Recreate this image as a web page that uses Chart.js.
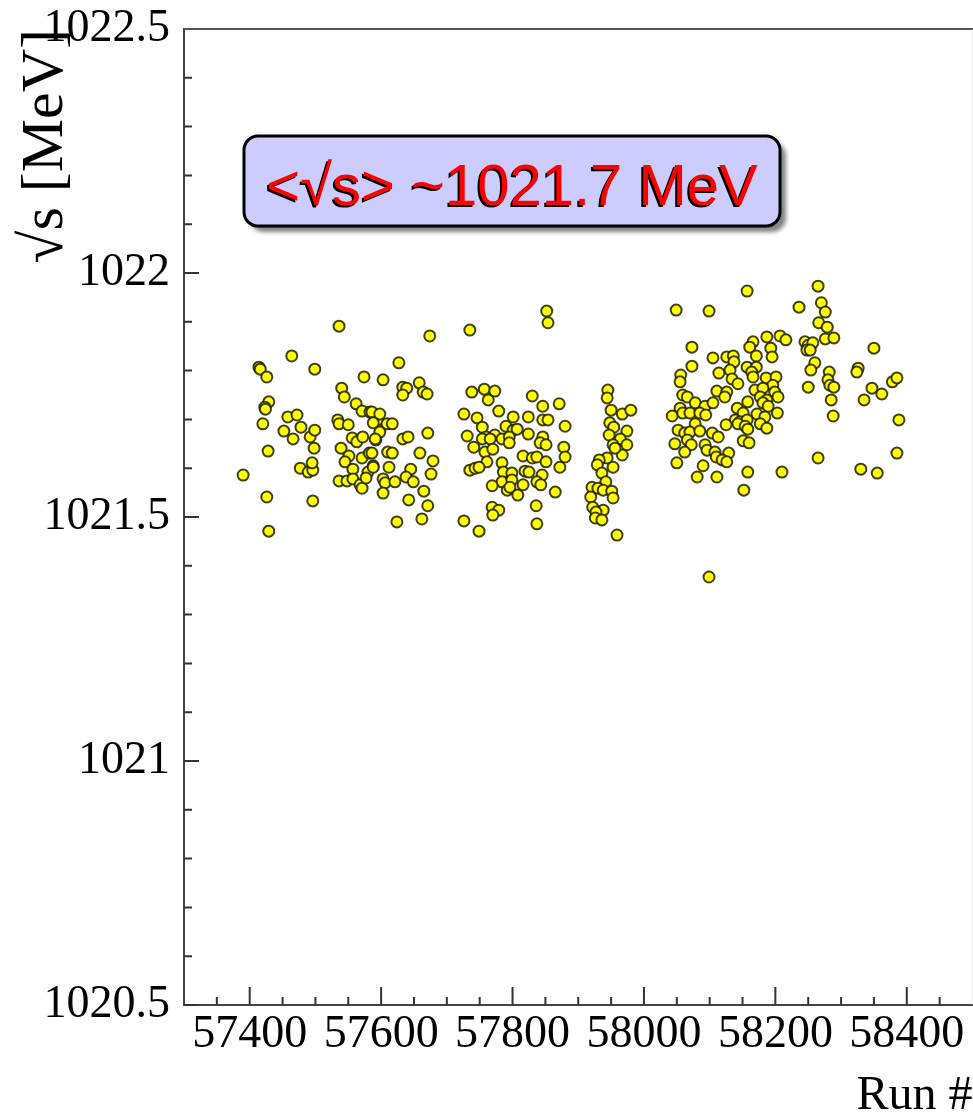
<!DOCTYPE html>
<html>
<head>
<meta charset="utf-8">
<script src="https://cdn.jsdelivr.net/npm/chart.js@4.4.1/dist/chart.umd.min.js"></script>
<style>
  html, body { margin: 0; padding: 0; background: #fff; overflow: hidden; width: 973px; height: 1119px; }
  canvas { display: block; }
</style>
</head>
<body>
<canvas id="chart" width="980" height="1119"></canvas>
<script>
// run numbers and measured sqrt(s) [MeV], grouped by run period
const runNumbers = [
  57390, 57414, 57416, 57426, 57429, 57423, 57424, 57420, 57428, 57426, 57429, 57464, 57499,
  57458, 57472, 57452, 57478, 57466, 57492, 57499, 57498, 57477, 57489, 57496, 57495, 57496,
  57536, 57574, 57540, 57544, 57534, 57536, 57550, 57562, 57571, 57583, 57591, 57595, 57556,
  57563, 57572, 57539, 57551, 57545, 57571, 57582, 57557, 57580, 57588, 57536, 57548, 57557,
  57568, 57571, 57577, 57592, 57674, 57627, 57603, 57633, 57639, 57633, 57658, 57664, 57670,
  57586, 57598, 57588, 57609, 57617, 57598, 57591, 57671, 57633, 57641, 57659, 57610, 57617,
  57586, 57588, 57612, 57679, 57645, 57638, 57649, 57676, 57603, 57606, 57603, 57621, 57665,
  57642, 57671, 57624, 57662,
  57852, 57854, 57735, 57726, 57749, 57738, 57757, 57763, 57773, 57779, 57830, 57846, 57871,
  57726, 57746, 57801, 57824, 57846, 57854, 57880, 57754, 57790, 57801, 57807, 57731, 57760,
  57773, 57754, 57766, 57784, 57795, 57824, 57846, 57741, 57758, 57770, 57795, 57842, 57851,
  57878, 57761, 57784, 57816, 57830, 57837, 57851, 57880, 57872, 57735, 57743, 57749, 57786,
  57799, 57819, 57825, 57845, 57784, 57799, 57837, 57843, 57769, 57792, 57796, 57808, 57816,
  57865, 57769, 57779, 57770, 57836, 57837,
  57945, 57944, 57950, 57967, 57980, 57948, 57954, 57947, 57974, 57964, 57953, 57974, 57967,
  57956, 57944, 57932, 57929, 57953, 57936, 57942, 57921, 57930, 57938, 57951, 57953, 57919,
  57922, 57938, 57927, 57926, 57936, 57959,
  58049, 58099, 58073, 58073, 58105, 58056, 58055, 58111, 58059, 58066, 58078, 58093, 58105,
  58055, 58043, 58059, 58070, 58085, 58094, 58078, 58052, 58062, 58070, 58085, 58104, 58113,
  58066, 58047, 58072, 58093, 58096, 58108, 58062, 58050, 58090, 58081, 58111, 58099,
  58157, 58236, 58187, 58207, 58216, 58166, 58161, 58193, 58195, 58126, 58136, 58137, 58171,
  58157, 58171, 58131, 58114, 58164, 58166, 58134, 58143, 58186, 58201, 58196, 58126, 58123,
  58169, 58181, 58199, 58204, 58177, 58187, 58158, 58181, 58189, 58142, 58151, 58172, 58203,
  58184, 58139, 58146, 58157, 58143, 58154, 58177, 58125, 58187, 58158, 58110, 58129, 58119,
  58126, 58151, 58160, 58158, 58210, 58152,
  58265, 58270, 58276, 58266, 58279, 58276, 58289, 58245, 58250, 58257, 58248, 58253, 58350,
  58260, 58254, 58282, 58280, 58283, 58289, 58250, 58326, 58324, 58378, 58385, 58347, 58362,
  58335, 58285, 58288, 58388, 58265, 58385, 58330, 58355
];
const sqrtS = [
  1021.586, 1021.807, 1021.803, 1021.787, 1021.736, 1021.725, 1021.721, 1021.691, 1021.635, 1021.541, 1021.471, 1021.830, 1021.803,
  1021.705, 1021.709, 1021.676, 1021.684, 1021.660, 1021.664, 1021.678, 1021.641, 1021.600, 1021.592, 1021.596, 1021.611, 1021.533,
  1021.891, 1021.787, 1021.764, 1021.746, 1021.699, 1021.691, 1021.689, 1021.732, 1021.717, 1021.715, 1021.705, 1021.699, 1021.662,
  1021.654, 1021.664, 1021.641, 1021.625, 1021.613, 1021.621, 1021.631, 1021.598, 1021.592, 1021.605, 1021.574, 1021.574, 1021.578,
  1021.566, 1021.559, 1021.580, 1021.658, 1021.871, 1021.816, 1021.781, 1021.766, 1021.764, 1021.750, 1021.775, 1021.756, 1021.752,
  1021.715, 1021.711, 1021.693, 1021.691, 1021.691, 1021.674, 1021.660, 1021.672, 1021.660, 1021.664, 1021.631, 1021.633, 1021.631,
  1021.631, 1021.602, 1021.602, 1021.615, 1021.598, 1021.582, 1021.572, 1021.588, 1021.578, 1021.570, 1021.549, 1021.572, 1021.553,
  1021.535, 1021.523, 1021.490, 1021.496,
  1021.922, 1021.898, 1021.883, 1021.492, 1021.471, 1021.756, 1021.762, 1021.740, 1021.758, 1021.717, 1021.748, 1021.727, 1021.732,
  1021.711, 1021.703, 1021.705, 1021.705, 1021.699, 1021.699, 1021.686, 1021.684, 1021.686, 1021.678, 1021.680, 1021.666, 1021.664,
  1021.668, 1021.660, 1021.660, 1021.660, 1021.664, 1021.670, 1021.664, 1021.643, 1021.633, 1021.639, 1021.652, 1021.652, 1021.648,
  1021.643, 1021.613, 1021.611, 1021.625, 1021.621, 1021.623, 1021.613, 1021.623, 1021.602, 1021.596, 1021.600, 1021.602, 1021.592,
  1021.590, 1021.594, 1021.592, 1021.586, 1021.572, 1021.576, 1021.572, 1021.566, 1021.564, 1021.555, 1021.561, 1021.545, 1021.566,
  1021.551, 1021.520, 1021.514, 1021.504, 1021.523, 1021.486,
  1021.760, 1021.744, 1021.719, 1021.711, 1021.719, 1021.693, 1021.684, 1021.668, 1021.676, 1021.660, 1021.648, 1021.648, 1021.627,
  1021.641, 1021.621, 1021.617, 1021.607, 1021.602, 1021.590, 1021.572, 1021.561, 1021.559, 1021.555, 1021.553, 1021.539, 1021.541,
  1021.520, 1021.514, 1021.510, 1021.498, 1021.494, 1021.463,
  1021.924, 1021.922, 1021.848, 1021.809, 1021.826, 1021.791, 1021.777, 1021.758, 1021.750, 1021.746, 1021.734, 1021.727, 1021.734,
  1021.723, 1021.707, 1021.713, 1021.713, 1021.713, 1021.709, 1021.691, 1021.678, 1021.672, 1021.674, 1021.676, 1021.672, 1021.664,
  1021.658, 1021.650, 1021.648, 1021.648, 1021.637, 1021.633, 1021.633, 1021.611, 1021.605, 1021.582, 1021.582, 1021.377,
  1021.963, 1021.930, 1021.869, 1021.871, 1021.863, 1021.859, 1021.848, 1021.846, 1021.828, 1021.828, 1021.830, 1021.818, 1021.830,
  1021.807, 1021.807, 1021.801, 1021.795, 1021.797, 1021.787, 1021.783, 1021.773, 1021.785, 1021.787, 1021.770, 1021.756, 1021.746,
  1021.760, 1021.764, 1021.756, 1021.746, 1021.746, 1021.740, 1021.736, 1021.734, 1021.727, 1021.723, 1021.713, 1021.711, 1021.713,
  1021.705, 1021.699, 1021.695, 1021.699, 1021.691, 1021.686, 1021.691, 1021.689, 1021.682, 1021.680, 1021.623, 1021.631, 1021.617,
  1021.613, 1021.656, 1021.652, 1021.592, 1021.592, 1021.555,
  1021.973, 1021.939, 1021.920, 1021.898, 1021.889, 1021.865, 1021.867, 1021.859, 1021.852, 1021.857, 1021.842, 1021.842, 1021.846,
  1021.816, 1021.801, 1021.797, 1021.781, 1021.770, 1021.766, 1021.766, 1021.805, 1021.797, 1021.777, 1021.785, 1021.764, 1021.752,
  1021.740, 1021.740, 1021.707, 1021.699, 1021.621, 1021.631, 1021.598, 1021.590
];

const xTickLabels = [57400, 57600, 57800, 58000, 58200, 58400];
const yTickLabels = [1020.5, 1021, 1021.5, 1022, 1022.5];
const meanLabel = '<\u221As> ~1021.7 MeV';

const points = runNumbers.map((r, i) => ({ x: r, y: sqrtS[i] }));

// ROOT style inward ticks, frame and the mean value box
const rootFrame = {
  id: 'rootFrame',
  afterDraw(chart) {
    const { ctx, chartArea: a, scales: { x, y } } = chart;
    ctx.save();
    ctx.strokeStyle = '#333';
    ctx.lineWidth = 2;
    ctx.beginPath();
    for (let v = 57350; v < 58500; v += 50) {
      const px = x.getPixelForValue(v);
      const len = v % 200 === 0 ? 18 : 8;
      ctx.moveTo(px, a.bottom);
      ctx.lineTo(px, a.bottom - len);
    }
    for (let k = 0; k <= 20; k++) {
      const v = 1020.5 + k * 0.1;
      const py = y.getPixelForValue(v);
      const len = k % 5 === 0 ? 15 : 8;
      ctx.moveTo(a.left, py);
      ctx.lineTo(a.left + len, py);
    }
    ctx.stroke();

    ctx.strokeStyle = '#555';
    ctx.beginPath();
    ctx.moveTo(a.left, a.top);
    ctx.lineTo(a.right + 1, a.top);
    ctx.stroke();
    ctx.strokeStyle = '#ddd';
    ctx.lineWidth = 1;
    ctx.beginPath();
    ctx.moveTo(a.right + 0.5, a.top);
    ctx.lineTo(a.right + 0.5, a.bottom);
    ctx.stroke();

    // mean value box
    const bx = 244, by = 136, bw = 536, bh = 90;
    ctx.fillStyle = 'rgba(90,90,90,0.75)';
    ctx.filter = 'blur(2px)';
    ctx.beginPath();
    ctx.roundRect(bx + 6, by + 6, bw, bh, 14);
    ctx.fill();
    ctx.filter = 'none';
    ctx.fillStyle = '#ccccff';
    ctx.strokeStyle = '#000';
    ctx.lineWidth = 3;
    ctx.beginPath();
    ctx.roundRect(bx, by, bw, bh, 14);
    ctx.fill();
    ctx.stroke();

    ctx.font = '58px "Liberation Sans", Arial, sans-serif';
    ctx.textAlign = 'center';
    ctx.textBaseline = 'alphabetic';
    ctx.fillStyle = '#000';
    ctx.fillText(meanLabel, bx + bw / 2 - 2, 207);
    ctx.fillStyle = '#ff0000';
    ctx.fillText(meanLabel, bx + bw / 2, 205);
    ctx.restore();
  }
};

const serif = '"Liberation Serif", "Times New Roman", serif';
const noPad = (s) => { s.paddingTop = 0; s.paddingBottom = 0; s.paddingLeft = 0; s.paddingRight = 0; };

new Chart(document.getElementById('chart'), {
  type: 'scatter',
  data: {
    datasets: [{
      data: points,
      pointRadius: 5.5,
      pointHoverRadius: 5.5,
      pointBackgroundColor: '#ffff00',
      pointBorderColor: 'rgba(30,30,0,0.85)',
      pointBorderWidth: 2
    }]
  },
  options: {
    responsive: false,
    animation: false,
    devicePixelRatio: 1,
    layout: { padding: { top: 29, right: 1, left: 0, bottom: 0 } },
    plugins: { legend: { display: false }, tooltip: { enabled: false } },
    scales: {
      x: {
        type: 'linear',
        min: 57300,
        max: 58500,
        afterBuildTicks: (s) => { s.ticks = xTickLabels.map((v) => ({ value: v })); },
        afterFit: (s) => { s.height = 114; noPad(s); },
        grid: { drawOnChartArea: false, drawTicks: false },
        border: { display: true, color: '#444', width: 2 },
        ticks: {
          padding: 2,
          maxRotation: 0,
          autoSkip: false,
          color: '#000',
          font: { family: serif, size: 46 },
          callback: (v) => String(v)
        },
        title: {
          display: true,
          text: 'Run #',
          align: 'end',
          color: '#000',
          font: { family: serif, size: 48, lineHeight: 0.9 },
          padding: { top: 0, bottom: 1 }
        }
      },
      y: {
        type: 'linear',
        min: 1020.5,
        max: 1022.5,
        afterBuildTicks: (s) => { s.ticks = yTickLabels.map((v) => ({ value: v })); },
        afterFit: (s) => { s.width = 184; noPad(s); },
        grid: { drawOnChartArea: false, drawTicks: false },
        border: { display: true, color: '#444', width: 2 },
        ticks: {
          padding: 14,
          autoSkip: false,
          color: '#000',
          font: { family: serif, size: 46 },
          callback: (v) => String(v)
        },
        title: {
          display: true,
          text: '\u221As [MeV]',
          align: 'end',
          color: '#000',
          font: { family: serif, size: 60 },
          padding: { top: 10, bottom: 0 }
        }
      }
    }
  },
  plugins: [rootFrame]
});
</script>
</body>
</html>
